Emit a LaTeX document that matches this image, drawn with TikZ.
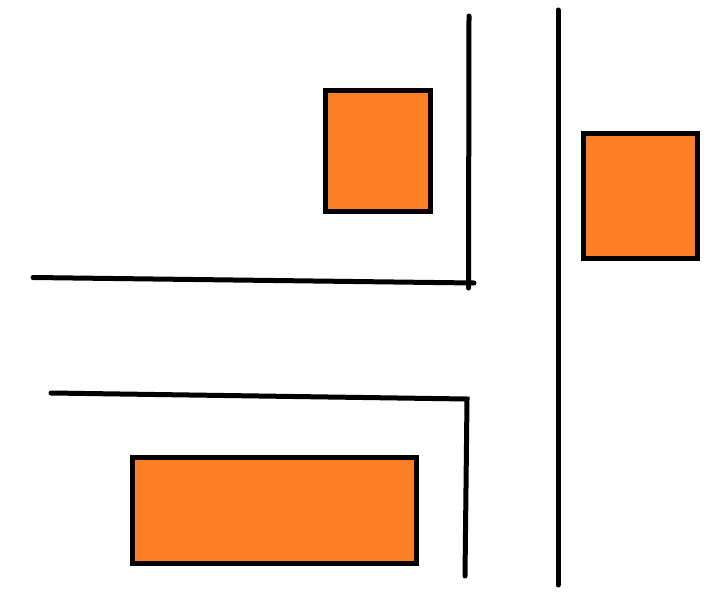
\documentclass[tikz,border=0pt]{standalone}
\definecolor{paintorange}{HTML}{FF7F27}
\tikzset{
  wall/.style={line width=5pt, line cap=round, draw=black},
  block/.style={line width=5pt, draw=black, fill=paintorange},
}
\begin{document}
\begin{tikzpicture}[x=1pt,y=-1pt]
\useasboundingbox (0,0) rectangle (711,604);
% orange blocks
\draw[block] (325.5,90.5) rectangle (430.5,211.5);
\draw[block] (583.5,133.5) rectangle (697.5,258.5);
\draw[block] (132.5,457.5) rectangle (416.5,563.5);
% lines
\draw[wall] (469,16) -- (468.5,288);
\draw[wall] (558,10) -- (558,585);
\draw[wall] (33,277.5) -- (474,283);
\draw[wall] (51,393) -- (467,399) -- (465,576);
\end{tikzpicture}
\end{document}
